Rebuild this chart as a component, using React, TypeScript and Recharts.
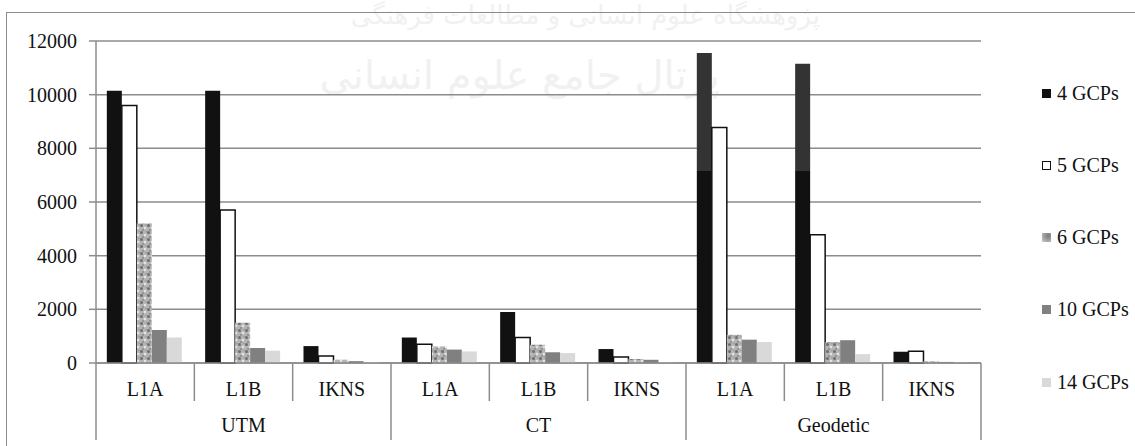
import React from "react";
import { BarChart, Bar, XAxis, YAxis, CartesianGrid, Cell } from "recharts";

const categories = ["L1A", "L1B", "IKNS", "L1A", "L1B", "IKNS", "L1A", "L1B", "IKNS"];
const groups = ["UTM", "UTM", "UTM", "CT", "CT", "CT", "Geodetic", "Geodetic", "Geodetic"];

const gcp4 = [10150, 10150, 630, 950, 1900, 520, 11550, 11150, 420];
const gcp5 = [9600, 5700, 260, 700, 950, 220, 8780, 4780, 440];
const gcp6 = [5200, 1500, 120, 620, 680, 150, 1050, 780, 70];
const gcp10 = [1230, 560, 70, 500, 400, 120, 870, 850, 40];
const gcp14 = [950, 460, 40, 430, 370, 30, 780, 330, 20];
// value where the 4 GCPs bar changes from dark grey (above) to black (below)
const gcp4Split: (number | null)[] = [null, null, null, null, null, null, 7150, 7150, null];

const yTicks = [0, 2000, 4000, 6000, 8000, 10000, 12000];

const series = [
  { key: "gcp4", name: "4 GCPs" },
  { key: "gcp5", name: "5 GCPs" },
  { key: "gcp6", name: "6 GCPs" },
  { key: "gcp10", name: "10 GCPs" },
  { key: "gcp14", name: "14 GCPs" },
];

const data = categories.map((cat, i) => ({
  cat,
  group: groups[i],
  gcp4: gcp4[i],
  gcp5: gcp5[i],
  gcp6: gcp6[i],
  gcp10: gcp10[i],
  gcp14: gcp14[i],
}));

const FONT = '"Liberation Serif", "Times New Roman", serif';
const GRID = "#8c8c8c";
const W = 1135;
const H = 446;
const M_RIGHT = 154;
const Y_W = 96;
const BAND = (W - M_RIGHT - Y_W) / categories.length;

const swatch: Record<string, React.CSSProperties> = {
  gcp4: { background: "#111" },
  gcp5: { background: "#fff", border: "1.5px solid #111", boxSizing: "border-box" },
  gcp6: { background: "radial-gradient(circle at 70% 30%, #7a7a7a 0, #a8a8a8 60%, #cfcfcf 100%)" },
  gcp10: { background: "#808080" },
  gcp14: { background: "#d9d9d9" },
};

function CategoryTick(props: any) {
  const { x, y, payload } = props;
  const i: number = payload?.index ?? props.index ?? 0;
  const half: number = payload?.offset || BAND / 2;
  const left = x - half;
  const groupStart = i % 3 === 0;
  return (
    <g>
      <line x1={left} x2={left} y1={y} y2={y + (groupStart ? 77 : 38)} stroke={GRID} strokeWidth={1.5} />
      {i === categories.length - 1 && (
        <line x1={x + half} x2={x + half} y1={y} y2={y + 77} stroke={GRID} strokeWidth={1.5} />
      )}
      <text x={x} y={y + 33} textAnchor="middle" fontSize={20} fontFamily={FONT} fill="#111">
        {payload.value}
      </text>
      {i % 3 === 1 && (
        <text x={x} y={y + 69} textAnchor="middle" fontSize={20} fontFamily={FONT} fill="#111">
          {groups[i]}
        </text>
      )}
    </g>
  );
}

const watermark: React.CSSProperties = {
  position: "absolute",
  textAlign: "center",
  fontFamily: '"DejaVu Sans", sans-serif',
  color: "#f1f1f1",
  direction: "rtl",
  whiteSpace: "nowrap",
};

export default function App() {
  return (
    <div style={{ position: "absolute", left: 0, top: 0, width: W, height: H, background: "#fff", overflow: "hidden" }}>
      {/* faint watermark of the source page */}
      <div style={{ ...watermark, left: 400, top: 0, width: 420, fontSize: 26, lineHeight: "30px" }}>
        پژوهشگاه علوم انسانی و مطالعات فرهنگی
      </div>
      <div style={{ ...watermark, left: 410, top: 52, width: 310, fontSize: 40 }}>
        پرتال جامع علوم انسانی
      </div>

      {/* outer frame: top and left edges */}
      <div
        style={{
          position: "absolute",
          left: 6,
          top: 12,
          width: W,
          height: H,
          borderTop: `1.5px solid ${GRID}`,
          borderLeft: `1.5px solid ${GRID}`,
        }}
      />

      <div style={{ position: "absolute", left: 0, top: 0 }}>
        <BarChart
          width={W}
          height={H}
          data={data}
          margin={{ top: 41, right: M_RIGHT, bottom: 0, left: 0 }}
          barCategoryGap="11%"
          barGap={0}
        >
          <defs>
            <pattern id="speckle" width="7" height="7" patternUnits="userSpaceOnUse">
              <rect width="7" height="7" fill="#b4b4b4" />
              <circle cx="1.5" cy="1.5" r="1.5" fill="#6e6e6e" />
              <circle cx="5" cy="4" r="1.3" fill="#e4e4e4" />
              <circle cx="3" cy="6" r="1" fill="#8a8a8a" />
              <circle cx="6" cy="0.5" r="0.8" fill="#9a9a9a" />
            </pattern>
            {gcp4Split.map((s, i) =>
              s == null ? null : (
                <linearGradient key={i} id={`split-${i}`} x1="0" y1="0" x2="0" y2="1">
                  <stop offset={(gcp4[i] - s) / gcp4[i]} stopColor="#333" />
                  <stop offset={(gcp4[i] - s) / gcp4[i]} stopColor="#111" />
                </linearGradient>
              )
            )}
          </defs>
          <CartesianGrid vertical={false} stroke={GRID} strokeWidth={1.5} />
          <XAxis
            dataKey="cat"
            interval={0}
            height={H - 363}
            axisLine={{ stroke: GRID, strokeWidth: 1.5 }}
            tickLine={false}
            tickSize={0}
            tickMargin={0}
            tick={<CategoryTick />}
          />
          <YAxis
            width={Y_W}
            domain={[0, 12000]}
            ticks={yTicks}
            interval={0}
            axisLine={{ stroke: GRID, strokeWidth: 1.5 }}
            tickLine={{ stroke: GRID, strokeWidth: 1.5 }}
            tickSize={7}
            tickMargin={12}
            tick={{ fontSize: 20, fontFamily: FONT, fill: "#111" }}
          />
          <Bar dataKey="gcp4" name="4 GCPs" fill="#111" isAnimationActive={false}>
            {data.map((_, i) => (
              <Cell key={i} fill={gcp4Split[i] == null ? "#111" : `url(#split-${i})`} />
            ))}
          </Bar>
          <Bar dataKey="gcp5" name="5 GCPs" fill="#fff" stroke="#111" strokeWidth={1.5} isAnimationActive={false} />
          <Bar dataKey="gcp6" name="6 GCPs" fill="url(#speckle)" isAnimationActive={false} />
          <Bar dataKey="gcp10" name="10 GCPs" fill="#808080" isAnimationActive={false} />
          <Bar dataKey="gcp14" name="14 GCPs" fill="#d9d9d9" isAnimationActive={false} />
        </BarChart>
      </div>

      {/* legend */}
      {series.map((s, i) => (
        <div
          key={s.key}
          style={{
            position: "absolute",
            left: 1042,
            top: 93 + i * 72.3 - 12,
            height: 24,
            display: "flex",
            alignItems: "center",
            fontFamily: FONT,
            fontSize: 20,
            color: "#111",
            whiteSpace: "nowrap",
          }}
        >
          <span style={{ display: "inline-block", width: 9, height: 9, marginRight: 6, ...swatch[s.key] }} />
          {s.name}
        </div>
      ))}
    </div>
  );
}
